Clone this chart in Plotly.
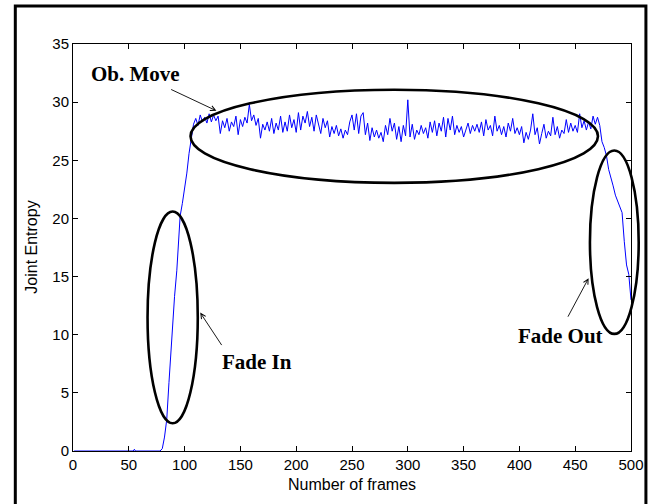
import plotly.graph_objects as go

# ---------------- data ----------------
frames_fade_in = [1, 54, 55, 56, 78, 80, 82, 84, 86, 88, 90, 91, 93, 94, 96, 98, 100, 102, 104, 106, 108]
entropy_fade_in = [0, 0, 0.15, 0, 0, 0.2, 1.2, 2.7, 5.9, 9.3, 12.4, 13.3, 15.5, 17.2, 20.2, 21.3, 22.5, 23.9, 25.6, 27.0, 28.1]

frames_plateau = list(range(110, 471, 2))
entropy_plateau = [
    28.6, 28.0, 28.9, 28.3, 28.7, 28.2, 29.0, 28.3, 28.9, 28.4, 28.8,
    27.3, 28.4, 27.8, 28.6, 27.5, 28.3, 27.9, 28.8, 27.2, 28.5, 27.9, 28.7, 28.2, 29.8,
    28.4, 28.9, 28.0, 28.6, 26.9, 28.1, 27.6, 28.3, 27.5, 28.6, 27.3, 28.2, 27.6, 28.8, 27.4, 28.3, 27.5, 28.9, 27.8, 28.5, 27.4,
    29.1, 27.6, 28.8, 28.2, 29.2, 27.9, 28.7, 27.5, 28.9, 28.1, 27.3, 28.6, 27.8, 28.4, 27.0, 27.9, 27.3, 28.0, 27.1, 27.7, 26.9, 27.6, 27.2, 28.3,
    28.9, 27.6, 29.0, 27.3, 28.8, 29.1, 27.2, 28.2, 26.7, 27.8, 27.0, 27.6, 26.9, 27.4, 26.6, 28.0, 27.2, 28.6, 27.5, 28.2, 26.8, 27.9, 26.6, 28.0, 27.1, 30.2,
    27.0, 28.1, 26.8, 27.6, 27.2, 28.0, 27.3, 27.8, 26.9, 28.3, 27.4, 28.4, 27.1, 28.2, 27.5, 28.7, 27.0, 28.6, 27.6, 28.8, 27.2, 28.0, 27.4, 27.9, 27.0, 27.6, 28.2, 27.3, 28.0, 27.5,
    28.1, 27.4, 28.3, 27.1, 28.5, 27.6, 28.0, 27.1, 28.8, 27.5, 28.0, 27.2, 27.9, 27.0, 28.2, 27.5, 28.6, 27.3, 27.8, 27.2, 27.9, 26.5, 27.4, 26.8, 27.6,
    29.0, 27.2, 27.8, 26.4, 27.3, 28.1, 26.9, 27.5, 27.1, 28.7, 27.2, 27.9, 26.9, 27.6, 27.3, 28.5, 27.4, 28.2, 27.5, 28.0, 27.4, 29.0, 27.8, 28.4, 27.6, 28.3, 27.7, 28.8, 28.1, 28.7,
]

frames_fade_out = [472, 474, 476, 478, 480, 482, 484, 486, 488, 490, 492, 494, 496, 498, 500]
entropy_fade_out = [28.0, 26.6, 26.1, 25.4, 24.2, 23.6, 22.8, 22.0, 21.5, 21.0, 20.5, 18.0, 16.0, 15.2, 13.0]

assert len(frames_plateau) == len(entropy_plateau)

frames = frames_fade_in + frames_plateau + frames_fade_out
entropy = entropy_fade_in + entropy_plateau + entropy_fade_out

x_ticks = list(range(0, 501, 50))
y_ticks = list(range(0, 36, 5))
X_RANGE = [0, 500]
Y_RANGE = [0, 35]

# ellipses (data space): x0, x1, y0, y1
ellipses = [
    (105.3, 470.4, 23.06, 31.07),   # Ob. Move
    (66.8, 111.8, 2.38, 20.59),     # Fade In
    (463.2, 506.9, 10.07, 25.84),   # Fade Out
]

labels = [("Ob. Move", 56.4, 32.4), ("Fade In", 164.5, 7.66), ("Fade Out", 437.0, 9.9)]
# arrows: head x, head y, tail x, tail y
arrows = [(128.5, 29.26, 86.6, 31.15), (114.0, 11.9, 134.1, 8.98), (462.0, 14.86, 442.8, 11.42)]

# ---------------- figure ----------------
W, H = 656, 504
ML, MR, MT, MB = 73, 22, 44, 53
PW, PH = W - ML - MR, H - MT - MB


def px(x):
    return (x - X_RANGE[0]) / (X_RANGE[1] - X_RANGE[0])


def py(y):
    return (y - Y_RANGE[0]) / (Y_RANGE[1] - Y_RANGE[0])


fig = go.Figure()
fig.add_trace(go.Scatter(x=frames, y=entropy, mode="lines",
                         line=dict(color="#0000ff", width=1), hoverinfo="skip",
                         showlegend=False))

shapes = []
for x0, x1, y0, y1 in ellipses:
    shapes.append(dict(type="circle", xref="paper", yref="paper",
                       x0=px(x0), x1=px(x1), y0=py(y0), y1=py(y1),
                       line=dict(color="black", width=2.6), layer="above"))
# outer figure frame
shapes.append(dict(type="rect", xref="paper", yref="paper",
                   x0=(15 - ML) / PW, x1=(649 - ML) / PW,
                   y0=(H - MB - 515) / PH, y1=(H - MB - 6) / PH,
                   line=dict(color="black", width=3), layer="above"))

annotations = []
for t, x, y in labels:
    annotations.append(dict(text="<b>%s</b>" % t, x=x, y=y, xref="x", yref="y",
                            showarrow=False, xanchor="center", yanchor="middle",
                            font=dict(family="Liberation Serif", size=21, color="black")))
for hx, hy, tx, ty in arrows:
    annotations.append(dict(text="", x=hx, y=hy, xref="x", yref="y",
                            ax=tx, ay=ty, axref="x", ayref="y",
                            showarrow=True, arrowhead=5, arrowsize=1.1,
                            arrowwidth=0.9, arrowcolor="black", standoff=0,
                            startstandoff=0))
annotations.append(dict(text="Number of frames", x=0.5, y=(H - MB - 485) / PH,
                        xref="paper", yref="paper", showarrow=False,
                        xanchor="center", yanchor="middle",
                        font=dict(family="Liberation Sans", size=16, color="black")))
annotations.append(dict(text="Joint Entropy", x=(31 - ML) / PW, y=0.5,
                        xref="paper", yref="paper", showarrow=False, textangle=-90,
                        xanchor="center", yanchor="middle",
                        font=dict(family="Liberation Sans", size=16, color="black")))

axis_common = dict(showgrid=False, zeroline=False, showline=True, linecolor="black",
                   linewidth=1, mirror="ticks", ticks="inside", ticklen=5,
                   tickcolor="black", tickwidth=1,
                   tickfont=dict(family="Liberation Sans", size=15, color="black"))

fig.update_layout(
    width=W, height=H,
    margin=dict(l=ML, r=MR, t=MT, b=MB, pad=0),
    paper_bgcolor="white", plot_bgcolor="white",
    shapes=shapes, annotations=annotations,
    xaxis=dict(range=X_RANGE, tickvals=x_ticks, ticktext=[str(v) for v in x_ticks],
               **axis_common),
    yaxis=dict(range=Y_RANGE, tickvals=y_ticks, ticktext=[str(v) for v in y_ticks],
               **axis_common),
    showlegend=False,
)

fig.write_html("out.html", config={"displayModeBar": False})
